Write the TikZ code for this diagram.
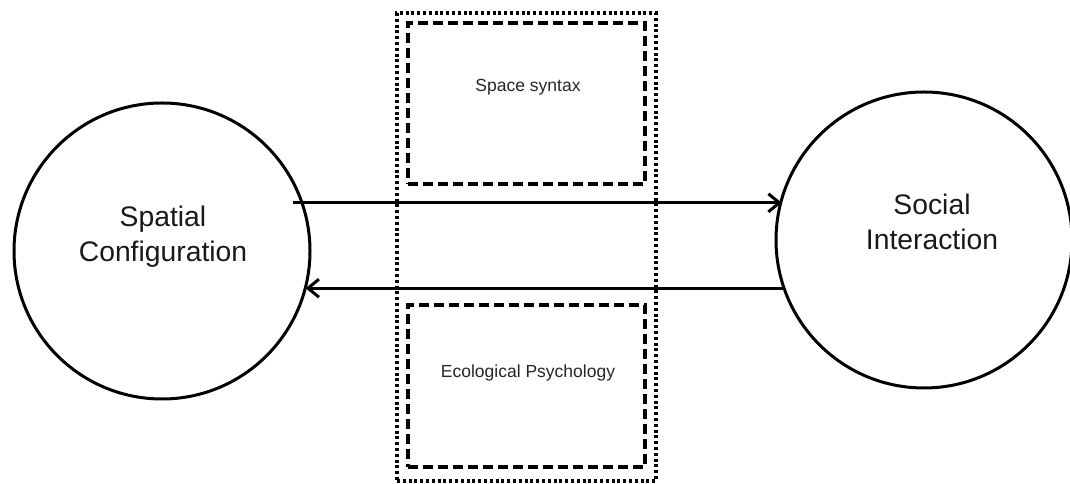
\documentclass[tikz,border=0pt]{standalone}
\usepackage{fontspec}
\setmainfont{Liberation Sans}
\usetikzlibrary{arrows.meta}
\begin{document}
\begin{tikzpicture}[x=1pt,y=1pt,
  topic/.style={circle, draw, line width=3pt, minimum size=296pt, inner sep=0pt, outer sep=0pt},
  bigtext/.style={align=center, inner sep=0pt, font=\fontsize{28.3}{35}\selectfont, text=black!90},
  smalltext/.style={inner sep=0pt, font=\fontsize{17.5}{21}\selectfont, text=black!85},
  theorybox/.style={draw, line width=3.8pt, dash pattern=on 10pt off 5pt, inner sep=0pt, outer sep=0pt},
  framebox/.style={draw, line width=3.2pt, dash pattern=on 3pt off 2.8pt, inner sep=0pt, outer sep=0pt},
  flow/.style={line width=3pt, -{Straight Barb[length=11pt,width=18pt,line width=3pt]}}]
\useasboundingbox (0,0) rectangle (1070,484);

% the two concepts
\node[topic] (sc) at (162,233) {};
\node[topic] (si) at (924,244) {};
\node[bigtext] (sct) at (163,247) {Spatial\\Configuration};
\node[bigtext] (sit) at (932,262) {Social\\Interaction};

% mediating theories
\node[framebox, minimum width=259pt, minimum height=468pt] (frame) at (526.5,237) {};
\node[theorybox, minimum width=237pt, minimum height=161pt] (ss) at (526.5,380.5) {};
\node[theorybox, minimum width=237pt, minimum height=162pt] (ep) at (526.5,98) {};
\node[smalltext] (sst) at (528,397) {Space syntax};
\node[smalltext] (ept) at (528,111) {Ecological Psychology};

% reciprocal relations, kept horizontal
\draw[flow] ([xshift=-9pt]sc.19.61) -- (si.164.72 |- sc.19.61);
\draw[flow] (si.199.33) -- (sc.-14.78 |- si.199.33);
\end{tikzpicture}
\end{document}
